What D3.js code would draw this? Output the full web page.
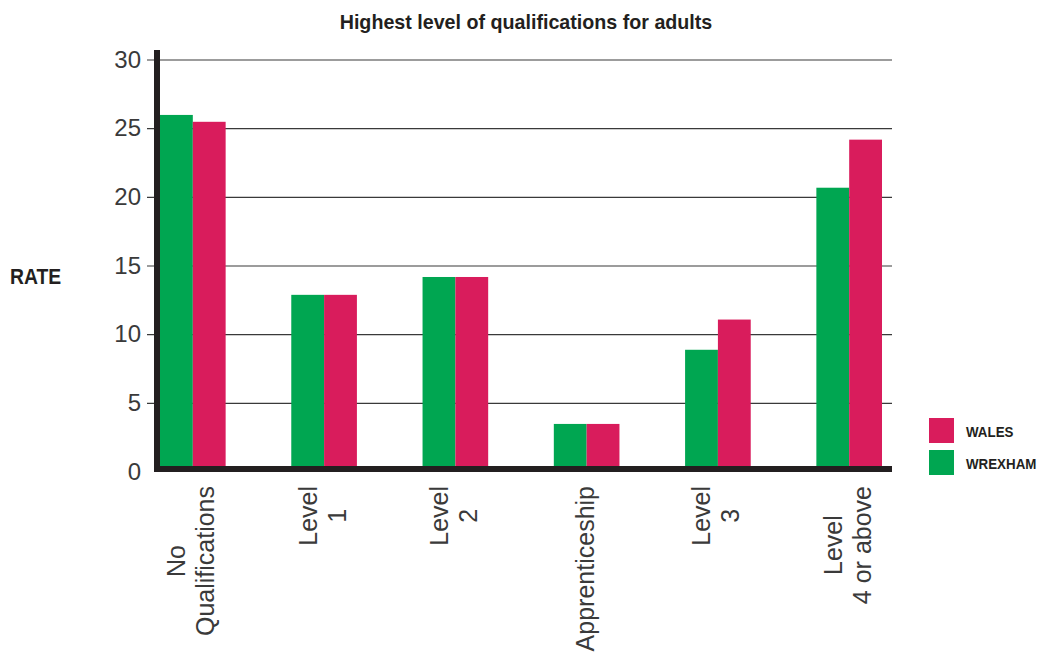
<!DOCTYPE html>
<html>
<head>
<meta charset="utf-8">
<script src="https://cdn.jsdelivr.net/npm/d3@7"></script>
<style>
  html, body { margin: 0; padding: 0; background: #fff; }
  svg { display: block; }
  .cond { font-family: "Liberation Sans Narrow", "Arial Narrow", "Liberation Sans", Arial, sans-serif; }
  .light { font-family: "Liberation Sans", Arial, Helvetica, sans-serif; }
</style>
</head>
<body>
<svg id="chart" width="1038" height="655"></svg>
<script>
const categories = [["No", "Qualifications"], ["Level", "1"], ["Level", "2"], ["Apprenticeship"], ["Level", "3"], ["Level", "4 or above"]];
const categoryKeys = ["No Qualifications", "Level 1", "Level 2", "Apprenticeship", "Level 3", "Level 4 or above"];
const seriesNames = ["WREXHAM", "WALES"];
const wrexham = [26.0, 12.9, 14.2, 3.5, 8.9, 20.7];
const wales = [25.5, 12.9, 14.2, 3.5, 11.1, 24.2];
const yTicks = [0, 5, 10, 15, 20, 25, 30];
const colors = { WREXHAM: "#00a651", WALES: "#d91c5c" };
const titleText = "Highest level of qualifications for adults";
const yTitle = "RATE";

const svg = d3.select("#chart");

const y = d3.scaleLinear().domain([0, 30]).range([472, 60]);
const x = d3.scaleBand().domain(categoryKeys).range([160, 882]).paddingInner(0.5).paddingOuter(0);
const xs = d3.scaleBand().domain(seriesNames).range([0, x.bandwidth()]);

// condensed bold text helper: squeeze horizontally
function condText(sel, tx, ty, size, squeeze, anchor) {
  const t = sel.append("text").attr("class", "cond")
    .attr("font-weight", "bold").attr("font-size", size).attr("fill", "#231f20")
    .attr("text-anchor", anchor || "start")
    .attr("transform", `translate(${tx},${ty}) scale(${squeeze},1)`);
  return t;
}

// title
condText(svg, 526, 29, 20.5, 0.96, "middle").text(titleText);

// y axis title
condText(svg, 10, 284, 21.5, 0.9).text(yTitle);

// gridlines
svg.append("g").selectAll("line").data(yTicks.filter(d => d > 0)).join("line")
  .attr("x1", 147).attr("x2", 892)
  .attr("y1", d => y(d)).attr("y2", d => y(d))
  .attr("stroke", "#3a3a3a").attr("stroke-width", 1.2);

// y tick labels via axis
const yAxis = d3.axisLeft(y).tickValues(yTicks).tickSize(0).tickPadding(0).tickFormat(d3.format("d"));
const ga = svg.append("g").attr("transform", "translate(141,0)").call(yAxis);
ga.select(".domain").remove();
ga.selectAll("text").attr("class", "light").attr("font-size", 24).attr("fill", "#3a3a3a")
  .attr("dy", "0.3em");

// bars
const data = categoryKeys.map((c, i) => ({ c, WREXHAM: wrexham[i], WALES: wales[i] }));
const groups = svg.append("g").selectAll("g").data(data).join("g")
  .attr("transform", d => `translate(${x(d.c)},0)`);
groups.selectAll("rect").data(d => seriesNames.map(s => ({ s, v: d[s] }))).join("rect")
  .attr("x", d => xs(d.s)).attr("width", xs.bandwidth())
  .attr("y", d => y(d.v)).attr("height", d => y(0) - y(d.v))
  .attr("fill", d => colors[d.s]);

// axes thick lines
svg.append("line").attr("x1", 157).attr("x2", 157).attr("y1", 50).attr("y2", 472)
  .attr("stroke", "#231f20").attr("stroke-width", 6);
svg.append("line").attr("x1", 154).attr("x2", 892).attr("y1", 469).attr("y2", 469)
  .attr("stroke", "#231f20").attr("stroke-width", 6);

// x labels
const xl = svg.append("g");
data.forEach((d, i) => {
  const lines = categories[i];
  const cx = x(d.c) + x.bandwidth() / 2;
  const g = xl.append("g");
  const texts = lines.map((ln, j) => g.append("text").attr("class", "light")
    .attr("font-size", 25).attr("fill", "#3a3a3a")
    .attr("text-anchor", "middle").text(ln));
  let maxW = 0;
  texts.forEach(t => { maxW = Math.max(maxW, t.node().getComputedTextLength()); });
  const n = lines.length;
  texts.forEach((t, j) => {
    const off = (j - (n - 1) / 2) * 29 + 7;
    const bx = cx + off;
    const cy = 486 + maxW / 2;
    t.attr("transform", `translate(${bx},${cy}) rotate(-90)`);
  });
});

// legend
const legend = [["WALES", 418], ["WREXHAM", 450]];
const lg = svg.append("g");
legend.forEach(([s, ly]) => {
  lg.append("rect").attr("x", 929).attr("y", ly).attr("width", 25).attr("height", 25).attr("fill", colors[s]);
  condText(lg, 966, ly + 19, 15, 0.89).text(s);
});
</script>
</body>
</html>
